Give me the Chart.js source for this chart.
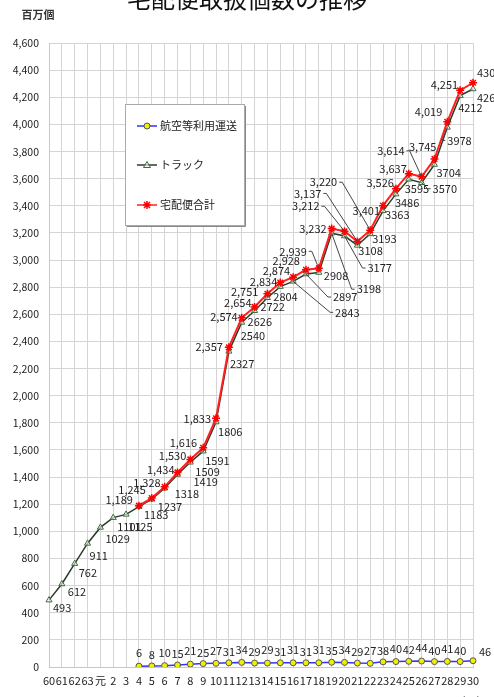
<!DOCTYPE html>
<html><head><meta charset="utf-8">
<script src="https://cdn.jsdelivr.net/npm/chart.js@4"></script>
<style>html,body{margin:0;padding:0;background:#fff;}canvas{display:block;}</style>
</head><body>
<canvas id="c" width="494" height="697"></canvas>
<script>
const years = ['60','61','62','63','元','2','3','4','5','6','7','8','9','10','11','12','13','14','15','16','17','18','19','20','21','22','23','24','25','26','27','28','29','30'];
const airValues = [null,null,null,null,null,null,null,6,8,10,15,21,25,27,31,34,29,29,31,31,31,31,35,34,29,27,38,40,42,44,40,41,40,46];
const truckValues = [493,612,762,911,1029,1101,1125,1183,1237,1318,1419,1509,1591,1806,2327,2540,2626,2722,2804,2843,2897,2908,3198,3177,3108,3193,3363,3486,3595,3570,3704,3978,4212,4261];
const totalValues = [null,null,null,null,null,null,null,1189,1245,1328,1434,1530,1616,1833,2357,2574,2654,2751,2834,2874,2928,2939,3232,3212,3137,3220,3401,3526,3637,3614,3745,4019,4251,4307];
const yTicks = {min:0, max:4600, step:200};
const seriesNames = ['航空等利用運送','トラック','宅配便合計'];

// label placement (offset from point: dx, dy, leader, align)
const totalLabelPos = {7:[-6,-6],8:[-6,-8],9:[-4,-4],10:[-3,-3],11:[-4,-4],12:[-6,-5],13:[-5,0],14:[-6,0],15:[-4,-1],16:[-3,-4],17:[-9,-2],18:[-3,-1],19:[-3,-6],20:[-6,-9],21:[-12,-17,1],22:[-5,0],23:[-25,-25,1],24:[-36,-48,1],25:[-33,-48,1],26:[-3,5],27:[-2,-6],28:[-2,-5],29:[-17,-26,1],30:[2,-12],31:[-5,-10],32:[-2,-6],33:[4,-10,0,'l']};
const truckLabelPos = {0:[4,8],1:[6,8],2:[4,9],3:[2,12],4:[5,11],5:[4,9],6:[2,12],7:[5,8],8:[6,8],9:[10,6],10:[16,7],11:[5,10],12:[2,10],13:[2,10],14:[1,12],15:[-1,13],16:[-7,11],17:[-7,9],18:[-7,10],19:[42,31,1],20:[27,23,1],21:[5,3],22:[25,56,1],23:[23,32,1],24:[1,5],25:[2,5],26:[2,4],27:[-1,9],28:[-4,9],29:[11,6,1],30:[2,8],31:[0,13,1],32:[-2,12],33:[4,9]};

const FONT = '"Noto Sans CJK JP", "Noto Sans", sans-serif';
const fmtComma = v => v.toLocaleString('en-US');

const labelPlugin = {
  id:'pointLabels',
  afterDatasetsDraw(chart){
    const ctx = chart.ctx;
    ctx.save();
    ctx.font = '11px ' + FONT;
    ctx.textBaseline = 'middle';
    const metaAir = chart.getDatasetMeta(0), metaTruck = chart.getDatasetMeta(1), metaTotal = chart.getDatasetMeta(2);
    const drawSet = (meta, vals, posMap, fmt, defAlign) => {
      meta.data.forEach((pt,i)=>{
        const v = vals[i]; if (v == null) return;
        const p = posMap[i]; if (!p) return;
        const txt = i === vals.length-1 ? String(v) : fmt(v);
        const align = p[3] === 'c' ? 'center' : (p[3] === 'l' ? 'left' : defAlign);
        const lx = pt.x + p[0], ly = pt.y + p[1];
        if (p[2]) {
          ctx.strokeStyle = '#444'; ctx.lineWidth = 1;
          ctx.beginPath();
          const ex = align === 'right' ? lx + 2 : lx - 2;
          ctx.moveTo(ex, ly); ctx.lineTo(ex + (align==='right'?3:-3), ly);
          ctx.lineTo(pt.x, pt.y);
          ctx.stroke();
        }
        ctx.fillStyle = '#222';
        ctx.textAlign = align;
        ctx.fillText(txt, lx, ly);
      });
    };
    drawSet(metaTruck, truckValues, truckLabelPos, v=>String(v), 'left');
    drawSet(metaTotal, totalValues, totalLabelPos, fmtComma, 'right');
    metaAir.data.forEach((pt,i)=>{
      const v = airValues[i]; if (v == null) return;
      ctx.fillStyle = '#222';
      if (i === years.length-1) { ctx.textAlign='left'; ctx.fillText(String(v), pt.x+6, pt.y-9); }
      else { ctx.textAlign='center'; ctx.fillText(String(v), pt.x, pt.y-11 - (i%2===1?2:0)); }
    });
    ctx.restore();
  }
};

const decorPlugin = {
  id:'decor',
  afterDraw(chart){
    const ctx = chart.ctx;
    ctx.save();
    ctx.fillStyle = '#111';
    ctx.font = '24px ' + FONT;
    ctx.textAlign = 'center'; ctx.textBaseline = 'middle';
    ctx.fillText('宅配便取扱個数の推移', 247, -1);
    ctx.font = 'bold 11px ' + FONT;
    ctx.fillStyle = '#333';
    ctx.fillText('百万個', 38, 15);
    ctx.font = '11px ' + FONT;
    ctx.fillStyle = '#555';
    ctx.fillText('(年度)', 472, 702);
    // legend box
    const bx=125, by=104, bw=119, bh=121;
    ctx.fillStyle = '#fff';
    ctx.fillRect(bx,by,bw,bh);
    ctx.strokeStyle = '#aaa'; ctx.lineWidth = 1;
    ctx.strokeRect(bx+0.5,by+0.5,bw,bh);
    ctx.strokeStyle = '#888';
    ctx.beginPath(); ctx.moveTo(bx+bw+1.5, by+2); ctx.lineTo(bx+bw+1.5, by+bh+1.5); ctx.lineTo(bx+2, by+bh+1.5); ctx.stroke();
    const items = [
      {y:126, style:'circle'},
      {y:165, style:'triangle'},
      {y:205, style:'star'}
    ];
    items.forEach((it,k)=>{
      const ds = chart.data.datasets[k];
      ctx.strokeStyle = ds.borderColor; ctx.lineWidth = 1.5;
      ctx.beginPath(); ctx.moveTo(137, it.y); ctx.lineTo(157, it.y); ctx.stroke();
      ctx.fillStyle = ds.pointBackgroundColor; ctx.strokeStyle = ds.pointBorderColor; ctx.lineWidth = ds.pointBorderWidth;
      ctx.beginPath();
      if (it.style==='circle'){ ctx.arc(147,it.y,3,0,Math.PI*2); ctx.fill(); ctx.stroke(); }
      else if (it.style==='triangle'){ ctx.moveTo(147,it.y-3.5); ctx.lineTo(150.5,it.y+2.5); ctx.lineTo(143.5,it.y+2.5); ctx.closePath(); ctx.fill(); ctx.stroke(); }
      else { ctx.moveTo(144,it.y-3);ctx.lineTo(150,it.y+3);ctx.moveTo(150,it.y-3);ctx.lineTo(144,it.y+3);ctx.moveTo(147,it.y-4);ctx.lineTo(147,it.y+4);ctx.moveTo(143,it.y);ctx.lineTo(151,it.y);ctx.stroke(); }
      ctx.fillStyle = '#222';
      ctx.font = '11px ' + FONT;
      ctx.textAlign = 'left'; ctx.textBaseline='middle';
      ctx.fillText(seriesNames[k], 160, it.y);
    });
    ctx.restore();
  }
};

new Chart(document.getElementById('c'), {
  type:'line',
  data:{
    labels: years,
    datasets:[
      {label:seriesNames[0], data:airValues, borderColor:'#3333ff', borderWidth:1.5, pointStyle:'circle', pointRadius:3, pointBackgroundColor:'#f0f000', pointBorderColor:'#555', pointBorderWidth:1, order:3},
      {label:seriesNames[1], data:truckValues, borderColor:'#2b3b2b', borderWidth:1.5, pointStyle:'triangle', pointRadius:3.5, pointBackgroundColor:'rgba(255,255,255,0.6)', pointBorderColor:'#3d6b3d', pointBorderWidth:1, order:2},
      {label:seriesNames[2], data:totalValues, borderColor:'#ff2020', borderWidth:2, pointStyle:'star', pointRadius:4, pointBackgroundColor:'#ff2020', pointBorderColor:'#ff0000', pointBorderWidth:1.5, order:1}
    ]
  },
  options:{
    responsive:false, animation:false, devicePixelRatio:1,
    layout:{padding:{left:0,right:21,top:43,bottom:0}},
    plugins:{legend:{display:false}, title:{display:false}, tooltip:{enabled:false}},
    elements:{line:{tension:0}},
    scales:{
      x:{
        offset:false,
        grid:{color:'#d4d4d4', lineWidth:1, drawTicks:false},
        border:{color:'#c8c8c8'},
        ticks:{autoSkip:false, maxRotation:0, minRotation:0, padding:7, color:'#222', font:{family:FONT, size:11}},
        afterFit(s){ s.height = 30; }
      },
      y:{
        min:yTicks.min, max:yTicks.max,
        grid:{color:'#d4d4d4', lineWidth:1, drawTicks:false},
        border:{color:'#c8c8c8'},
        ticks:{stepSize:yTicks.step, padding:10, color:'#222', font:{family:FONT, size:10.5}, callback:v=>fmtComma(v)},
        afterFit(s){ s.width = 49; }
      }
    }
  },
  plugins:[labelPlugin, decorPlugin]
});
</script>
</body></html>
